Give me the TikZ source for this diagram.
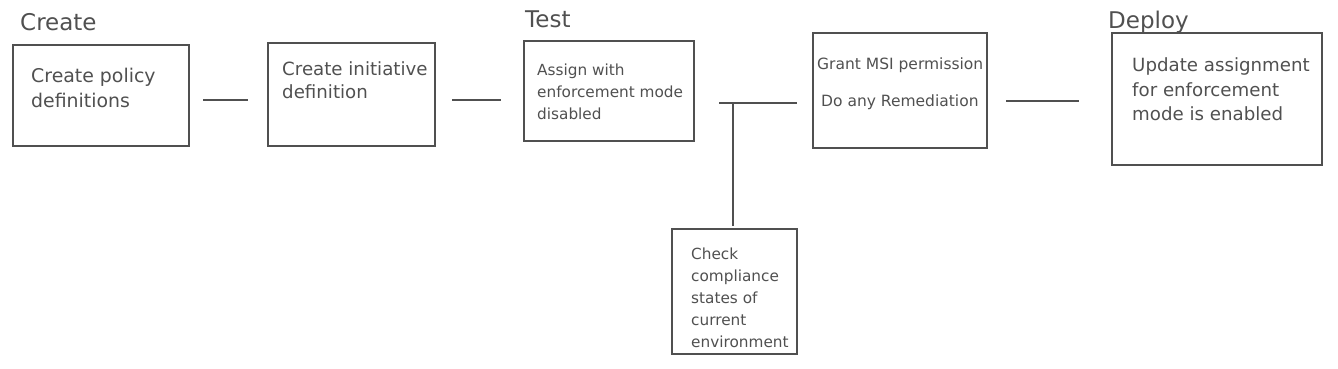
\documentclass[tikz,border=0pt]{standalone}
\usepackage{fontspec}
\setmainfont{DejaVu Sans}
\definecolor{ink}{HTML}{505050}
\tikzset{
  stagebox/.style={draw=ink, line width=1.8pt, rectangle, inner sep=0pt},
  link/.style={draw=ink, line width=1.4pt},
  txt/.style={anchor=base west, inner sep=0pt, text=ink},
  stagelbl/.style={txt, font=\fontsize{23}{26}\selectfont},
}
\begin{document}
\begin{tikzpicture}[x=1pt,y=-1pt]
\useasboundingbox (0,0) rectangle (1338,369);
% boxes
\node[stagebox, minimum width=176pt, minimum height=101pt] (b1) at (101,95.5) {};
\node[stagebox, minimum width=167pt, minimum height=103pt] (b2) at (351.5,94.5) {};
\node[stagebox, minimum width=170pt, minimum height=100pt] (b3) at (609,91) {};
\node[stagebox, minimum width=174pt, minimum height=115pt] (b4) at (900,90.5) {};
\node[stagebox, minimum width=210pt, minimum height=132pt] (b5) at (1217,99) {};
\node[stagebox, minimum width=125pt, minimum height=125pt] (b6) at (734.5,291.5) {};
% stage labels
\node[stagelbl] (l1) at (20,31) {Create};
\node[stagelbl] (l2) at (525,28) {Test};
\node[stagelbl] (l3) at (1108,29) {Deploy};
% box texts
\begin{scope}[every node/.append style={font=\fontsize{18.9}{20}\selectfont}]
\node[txt] (t1a) at (31,82) {Create policy};
\node[txt] (t1b) at (31,107) {definitions};
\end{scope}
\begin{scope}[every node/.append style={font=\fontsize{18.2}{20}\selectfont}]
\node[txt] (t2a) at (282,75) {Create initiative};
\node[txt] (t2b) at (282,98) {definition};
\end{scope}
\begin{scope}[every node/.append style={font=\fontsize{15.3}{18}\selectfont}]
\node[txt] (t3a) at (537,75) {Assign with};
\node[txt] (t3b) at (537,97) {enforcement mode};
\node[txt] (t3c) at (537,119) {disabled};
\end{scope}
\begin{scope}[every node/.append style={font=\fontsize{15.5}{18}\selectfont}]
\node[txt] (t4a) at (817,70) {Grant MSI permission};
\node[txt] (t4b) at (821,106) {Do any Remediation};
\end{scope}
\begin{scope}[every node/.append style={font=\fontsize{18.2}{20}\selectfont}]
\node[txt] (t5a) at (1132,71) {Update assignment};
\node[txt] (t5b) at (1132,96) {for enforcement};
\node[txt] (t5c) at (1132,120) {mode is enabled};
\end{scope}
\begin{scope}[every node/.append style={font=\fontsize{15.3}{18}\selectfont}]
\node[txt] (t6a) at (691,259) {Check};
\node[txt] (t6b) at (691,281) {compliance};
\node[txt] (t6c) at (691,303) {states of};
\node[txt] (t6d) at (691,325) {current};
\node[txt] (t6e) at (691,347) {environment};
\end{scope}
% connectors
\coordinate (c1a) at (203,100); \coordinate (c1b) at (248,100);
\coordinate (c2a) at (452,100); \coordinate (c2b) at (501,100);
\coordinate (c3a) at (719,103); \coordinate (c3b) at (797,103);
\coordinate (c3j) at (733,103); \coordinate (c3d) at (733,226);
\coordinate (c4a) at (1006,101); \coordinate (c4b) at (1079,101);
\draw[link] (c1a) -- (c1b);
\draw[link] (c2a) -- (c2b);
\draw[link] (c3a) -- (c3b);
\draw[link] (c3j) -- (c3d);
\draw[link] (c4a) -- (c4b);
\end{tikzpicture}
\end{document}
